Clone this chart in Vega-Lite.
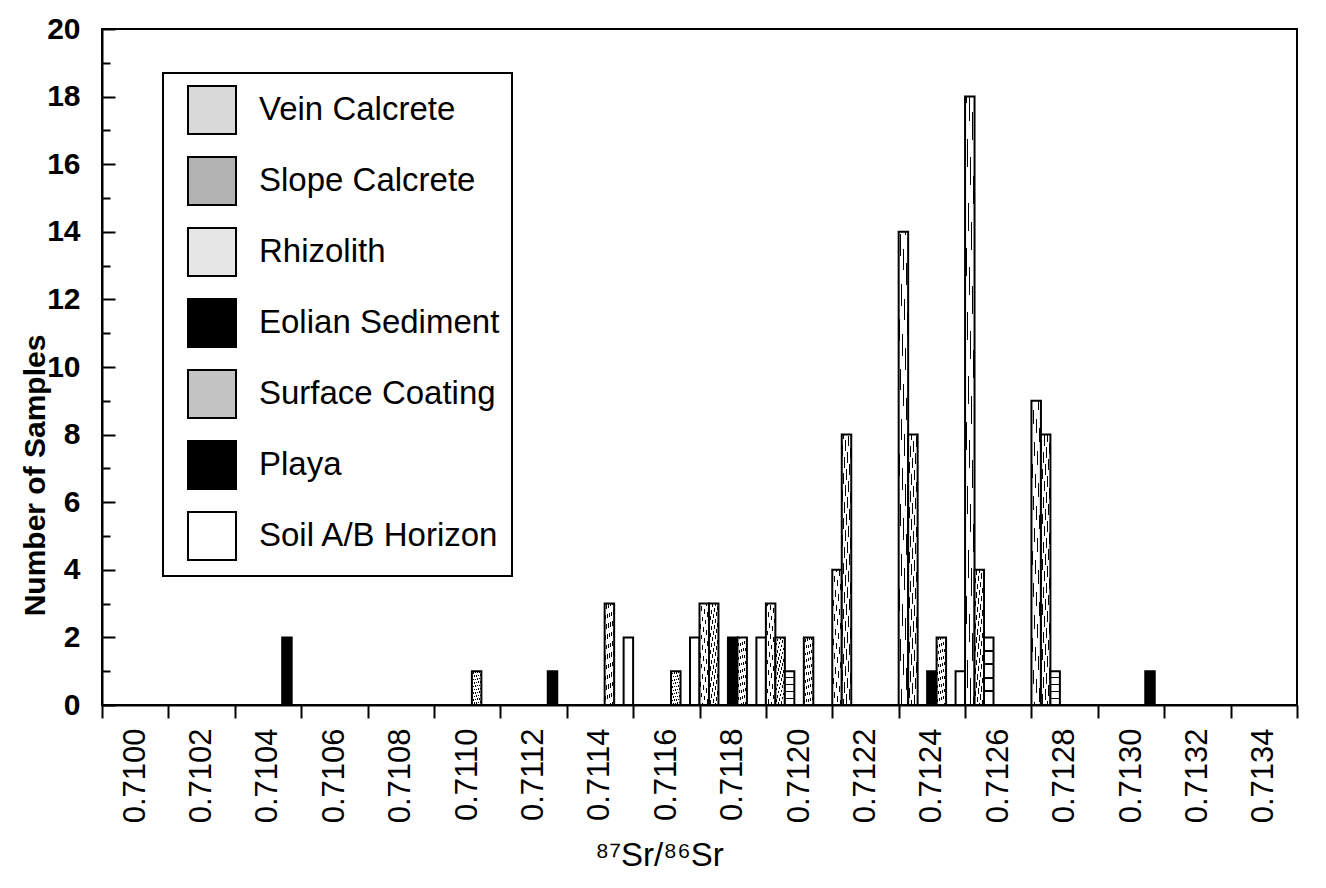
{
  "$schema": "https://vega.github.io/schema/vega-lite/v6.json",
  "width": 1195,
  "height": 676,
  "autosize": "none",
  "padding": {"left": 102, "top": 29, "right": 29, "bottom": 183},
  "background": "white",
  "data": {
    "values": [
      {"bin": "0.7104", "type": "Playa", "count": 2},
      {"bin": "0.7110", "type": "Surface Coating", "count": 1},
      {"bin": "0.7112", "type": "Playa", "count": 1},
      {"bin": "0.7114", "type": "Surface Coating", "count": 3},
      {"bin": "0.7114", "type": "Soil A/B Horizon", "count": 2},
      {"bin": "0.7116", "type": "Surface Coating", "count": 1},
      {"bin": "0.7116", "type": "Soil A/B Horizon", "count": 2},
      {"bin": "0.7118", "type": "Vein Calcrete", "count": 3},
      {"bin": "0.7118", "type": "Slope Calcrete", "count": 3},
      {"bin": "0.7118", "type": "Eolian Sediment", "count": 2},
      {"bin": "0.7118", "type": "Surface Coating", "count": 2},
      {"bin": "0.7118", "type": "Soil A/B Horizon", "count": 2},
      {"bin": "0.7120", "type": "Vein Calcrete", "count": 3},
      {"bin": "0.7120", "type": "Slope Calcrete", "count": 2},
      {"bin": "0.7120", "type": "Rhizolith", "count": 1},
      {"bin": "0.7120", "type": "Surface Coating", "count": 2},
      {"bin": "0.7122", "type": "Vein Calcrete", "count": 4},
      {"bin": "0.7122", "type": "Slope Calcrete", "count": 8},
      {"bin": "0.7124", "type": "Vein Calcrete", "count": 14},
      {"bin": "0.7124", "type": "Slope Calcrete", "count": 8},
      {"bin": "0.7124", "type": "Eolian Sediment", "count": 1},
      {"bin": "0.7124", "type": "Surface Coating", "count": 2},
      {"bin": "0.7124", "type": "Soil A/B Horizon", "count": 1},
      {"bin": "0.7126", "type": "Vein Calcrete", "count": 18},
      {"bin": "0.7126", "type": "Slope Calcrete", "count": 4},
      {"bin": "0.7126", "type": "Rhizolith", "count": 2},
      {"bin": "0.7128", "type": "Vein Calcrete", "count": 9},
      {"bin": "0.7128", "type": "Slope Calcrete", "count": 8},
      {"bin": "0.7128", "type": "Rhizolith", "count": 1},
      {"bin": "0.7130", "type": "Playa", "count": 1}
    ]
  },
  "mark": {"type": "bar", "stroke": "black", "strokeWidth": 2, "strokeJoin": "miter"},
  "encoding": {
    "x": {
      "field": "bin",
      "type": "ordinal",
      "scale": {
        "domain": ["0.7100","0.7102","0.7104","0.7106","0.7108","0.7110","0.7112","0.7114","0.7116","0.7118","0.7120","0.7122","0.7124","0.7126","0.7128","0.7130","0.7132","0.7134"],
        "paddingInner": 0,
        "paddingOuter": 0
      },
      "axis": {
        "title": "⁸⁷Sr/⁸⁶Sr",
        "titleFont": "Liberation Sans",
        "titleFontSize": 33,
        "titleFontWeight": "normal",
        "titleColor": "black",
        "titleX": 557,
        "titleY": 150,
        "titleAlign": "center",
        "titleBaseline": "middle",
        "labelAngle": 270,
        "labelAlign": "right",
        "labelBaseline": "middle",
        "labelFont": "Liberation Sans",
        "labelFontSize": 31,
        "labelColor": "black",
        "labelPadding": 10,
        "labelOverlap": false,
        "tickBand": "extent",
        "tickSize": 13,
        "tickWidth": 2,
        "tickColor": "black",
        "domainColor": "black",
        "domainWidth": 2,
        "grid": false
      }
    },
    "xOffset": {
      "field": "type",
      "type": "nominal",
      "scale": {
        "domain": ["Vein Calcrete","Slope Calcrete","Rhizolith","Eolian Sediment","Surface Coating","Playa","Soil A/B Horizon"],
        "paddingInner": 0,
        "paddingOuter": 0
      }
    },
    "y": {
      "field": "count",
      "type": "quantitative",
      "scale": {"domain": [0, 20], "nice": false},
      "axis": {
        "title": "Number of Samples",
        "titleFont": "Liberation Sans",
        "titleFontSize": 30,
        "titleFontWeight": "bold",
        "titleColor": "black",
        "titleAngle": 270,
        "titleX": -67,
        "titleY": 446,
        "titleAlign": "center",
        "titleBaseline": "middle",
        "values": [0,1,2,3,4,5,6,7,8,9,10,11,12,13,14,15,16,17,18,19,20],
        "labelExpr": "datum.value % 2 === 0 ? datum.label : ''",
        "labelFont": "Liberation Sans",
        "labelFontSize": 30,
        "labelFontWeight": "bold",
        "labelColor": "black",
        "labelPadding": 35,
        "labelOverlap": false,
        "labelFlush": false,
        "tickSize": {"condition": {"test": "datum.value % 2 === 1", "value": -8}, "value": -13},
        "tickWidth": 2,
        "tickColor": "black",
        "domainColor": "black",
        "domainWidth": 2,
        "grid": false
      }
    },
    "fill": {
      "field": "type",
      "type": "nominal",
      "condition": [
        {"test": "datum.type === 'Vein Calcrete'", "value": {"gradient": "linear", "x1": 0, "y1": 1, "x2": 1, "y2": 0, "stops": [
            {"offset":0,"color":"black"},{"offset":0.023,"color":"black"},{"offset":0.023,"color":"white"},
            {"offset":0.143,"color":"white"},{"offset":0.143,"color":"black"},{"offset":0.166,"color":"black"},{"offset":0.166,"color":"white"},
            {"offset":0.286,"color":"white"},{"offset":0.286,"color":"black"},{"offset":0.309,"color":"black"},{"offset":0.309,"color":"white"},
            {"offset":0.429,"color":"white"},{"offset":0.429,"color":"black"},{"offset":0.452,"color":"black"},{"offset":0.452,"color":"white"},
            {"offset":0.571,"color":"white"},{"offset":0.571,"color":"black"},{"offset":0.594,"color":"black"},{"offset":0.594,"color":"white"},
            {"offset":0.714,"color":"white"},{"offset":0.714,"color":"black"},{"offset":0.737,"color":"black"},{"offset":0.737,"color":"white"},
            {"offset":0.857,"color":"white"},{"offset":0.857,"color":"black"},{"offset":0.88,"color":"black"},{"offset":0.88,"color":"white"},
            {"offset":1,"color":"white"}
          ]}},
        {"test": "datum.type === 'Slope Calcrete'", "value": {"gradient": "linear", "x1": 0, "y1": 1, "x2": 1, "y2": 0, "stops": [
            {"offset":0,"color":"black"},{"offset":0.02,"color":"black"},{"offset":0.02,"color":"white"},
            {"offset":0.0833,"color":"white"},{"offset":0.0833,"color":"black"},{"offset":0.1033,"color":"black"},{"offset":0.1033,"color":"white"},
            {"offset":0.1667,"color":"white"},{"offset":0.1667,"color":"black"},{"offset":0.1867,"color":"black"},{"offset":0.1867,"color":"white"},
            {"offset":0.25,"color":"white"},{"offset":0.25,"color":"black"},{"offset":0.27,"color":"black"},{"offset":0.27,"color":"white"},
            {"offset":0.3333,"color":"white"},{"offset":0.3333,"color":"black"},{"offset":0.3533,"color":"black"},{"offset":0.3533,"color":"white"},
            {"offset":0.4167,"color":"white"},{"offset":0.4167,"color":"black"},{"offset":0.4367,"color":"black"},{"offset":0.4367,"color":"white"},
            {"offset":0.5,"color":"white"},{"offset":0.5,"color":"black"},{"offset":0.52,"color":"black"},{"offset":0.52,"color":"white"},
            {"offset":0.5833,"color":"white"},{"offset":0.5833,"color":"black"},{"offset":0.6033,"color":"black"},{"offset":0.6033,"color":"white"},
            {"offset":0.6667,"color":"white"},{"offset":0.6667,"color":"black"},{"offset":0.6867,"color":"black"},{"offset":0.6867,"color":"white"},
            {"offset":0.75,"color":"white"},{"offset":0.75,"color":"black"},{"offset":0.77,"color":"black"},{"offset":0.77,"color":"white"},
            {"offset":0.8333,"color":"white"},{"offset":0.8333,"color":"black"},{"offset":0.8533,"color":"black"},{"offset":0.8533,"color":"white"},
            {"offset":0.9167,"color":"white"},{"offset":0.9167,"color":"black"},{"offset":0.9367,"color":"black"},{"offset":0.9367,"color":"white"},
            {"offset":1,"color":"white"}
          ]}},
        {"test": "datum.type === 'Rhizolith'", "value": {"gradient": "linear", "x1": 0, "y1": 0, "x2": 0, "y2": 1, "stops": [
            {"offset":0,"color":"white"},{"offset":0.185,"color":"white"},{"offset":0.185,"color":"black"},{"offset":0.215,"color":"black"},{"offset":0.215,"color":"white"},
            {"offset":0.385,"color":"white"},{"offset":0.385,"color":"black"},{"offset":0.415,"color":"black"},{"offset":0.415,"color":"white"},
            {"offset":0.585,"color":"white"},{"offset":0.585,"color":"black"},{"offset":0.615,"color":"black"},{"offset":0.615,"color":"white"},
            {"offset":0.785,"color":"white"},{"offset":0.785,"color":"black"},{"offset":0.815,"color":"black"},{"offset":0.815,"color":"white"},
            {"offset":1,"color":"white"}
          ]}},
        {"test": "datum.type === 'Surface Coating'", "value": {"gradient": "linear", "x1": 0, "y1": 0, "x2": 1, "y2": 1, "stops": [
            {"offset":0,"color":"black"},{"offset":0.022,"color":"black"},{"offset":0.022,"color":"white"},
            {"offset":0.1,"color":"white"},{"offset":0.1,"color":"black"},{"offset":0.122,"color":"black"},{"offset":0.122,"color":"white"},
            {"offset":0.2,"color":"white"},{"offset":0.2,"color":"black"},{"offset":0.222,"color":"black"},{"offset":0.222,"color":"white"},
            {"offset":0.3,"color":"white"},{"offset":0.3,"color":"black"},{"offset":0.322,"color":"black"},{"offset":0.322,"color":"white"},
            {"offset":0.4,"color":"white"},{"offset":0.4,"color":"black"},{"offset":0.422,"color":"black"},{"offset":0.422,"color":"white"},
            {"offset":0.5,"color":"white"},{"offset":0.5,"color":"black"},{"offset":0.522,"color":"black"},{"offset":0.522,"color":"white"},
            {"offset":0.6,"color":"white"},{"offset":0.6,"color":"black"},{"offset":0.622,"color":"black"},{"offset":0.622,"color":"white"},
            {"offset":0.7,"color":"white"},{"offset":0.7,"color":"black"},{"offset":0.722,"color":"black"},{"offset":0.722,"color":"white"},
            {"offset":0.8,"color":"white"},{"offset":0.8,"color":"black"},{"offset":0.822,"color":"black"},{"offset":0.822,"color":"white"},
            {"offset":0.9,"color":"white"},{"offset":0.9,"color":"black"},{"offset":0.922,"color":"black"},{"offset":0.922,"color":"white"},
            {"offset":1,"color":"white"}
          ]}}
      ],
      "scale": {
        "domain": ["Vein Calcrete","Slope Calcrete","Rhizolith","Eolian Sediment","Surface Coating","Playa","Soil A/B Horizon"],
        "range": ["#d9d9d9","#b3b3b3","#e6e6e6","black","#c4c4c4","black","white"]
      },
      "legend": {
        "title": null,
        "orient": "none",
        "legendX": 61,
        "legendY": 44,
        "direction": "vertical",
        "symbolType": "square",
        "symbolSize": 2304,
        "symbolStrokeColor": "black",
        "symbolStrokeWidth": 2,
        "symbolOffset": 12,
        "labelFont": "Liberation Sans",
        "labelFontSize": 33,
        "labelColor": "black",
        "labelLimit": 500,
        "labelOffset": 22,
        "rowPadding": 15,
        "padding": 12,
        "strokeColor": "black",
        "fillColor": "white"
      }
    }
  },
  "config": {
    "view": {"stroke": "black", "strokeWidth": 2},
    "legend": {"strokeWidth": 2}
  }
}
